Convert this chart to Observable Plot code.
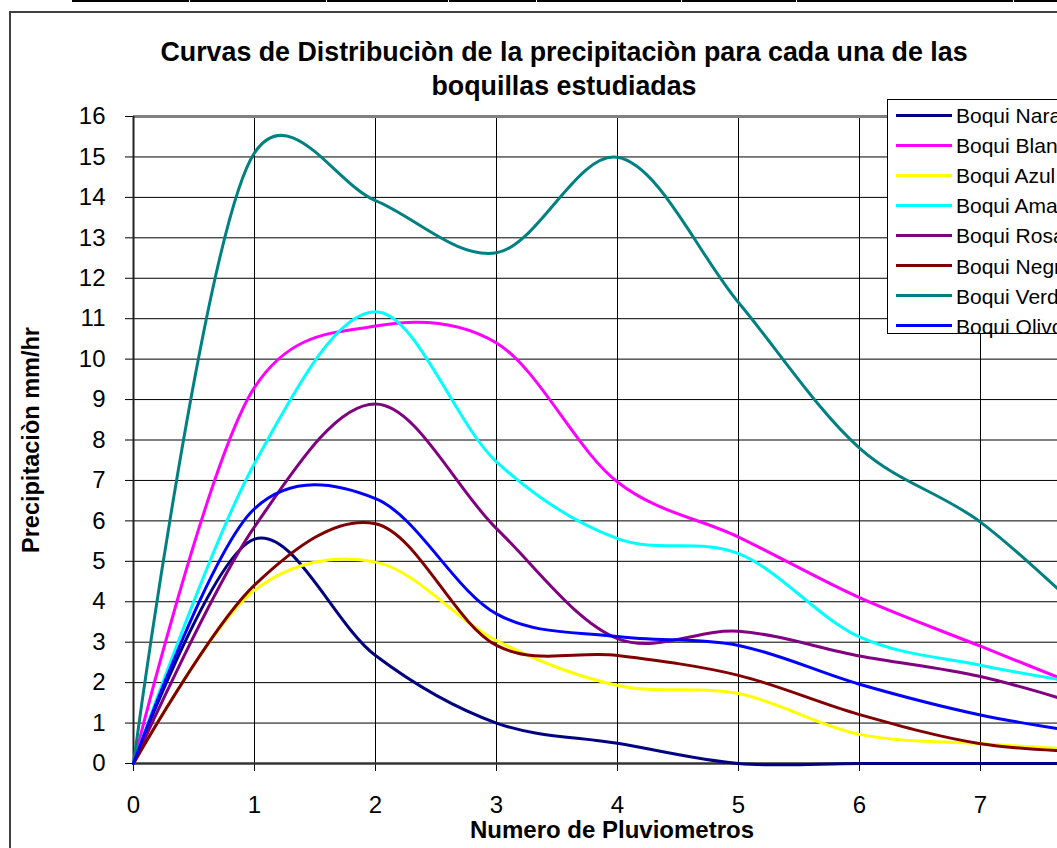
<!DOCTYPE html>
<html>
<head>
<meta charset="utf-8">
<script src="https://cdn.jsdelivr.net/npm/d3@7"></script>
<script src="https://cdn.jsdelivr.net/npm/@observablehq/plot@0.6"></script>
<style>
  html, body { margin: 0; padding: 0; background: #fff; overflow: hidden; }
  body { width: 1057px; height: 848px; position: relative; font-family: "Liberation Sans", Arial, sans-serif; color: #000; }
  #sheet-line { position: absolute; left: 72px; top: 0; width: 1100px; height: 2px; background: #000; }
  .cell-gap { position: absolute; top: 0; width: 1px; height: 2px; background: #fff; }
  #frame { position: absolute; left: 9px; top: 11px; width: 1200px; height: 1000px; border: 2px solid #404040; box-sizing: border-box; }
  #chart { position: absolute; left: 0; top: 0; width: 1130px; height: 900px; }
  #chart svg { max-width: none !important; }
  .title { position: absolute; left: 564px; transform: translateX(-50%); font-weight: bold; font-size: 26.8px; white-space: nowrap; line-height: 34px; text-align: center; }
  #ylabel { position: absolute; left: 31px; top: 440px; transform: translate(-50%, -50%) rotate(-90deg); font-weight: bold; font-size: 23.5px; white-space: nowrap; }
  #xlabel { position: absolute; left: 612px; top: 830px; transform: translate(-50%, -50%); font-weight: bold; font-size: 24px; white-space: nowrap; }
  #legend { position: absolute; left: 887px; top: 99px; width: 205px; height: 235px; border: 1px solid #000; background: #fff; box-sizing: border-box; }
  .leg-row { position: absolute; left: 0; height: 30px; width: 100%; }
  .leg-swatch { position: absolute; left: 8px; top: 13.5px; width: 56px; height: 3px; }
  .leg-text { position: absolute; left: 68px; top: 1px; line-height: 30px; font-size: 21px; white-space: nowrap; }
</style>
</head>
<body>
<div id="sheet-line"></div>
<div id="frame"></div>
<div id="chart"></div>
<div class="title" style="top:35px">Curvas de Distribuciòn de la precipitaciòn para cada una de las</div>
<div class="title" style="top:69px">boquillas estudiadas</div>
<div id="ylabel">Precipitaciòn mm/hr</div>
<div id="xlabel">Numero de Pluviometros</div>
<div id="legend"></div>
<script>
// Rain-gauge number along the collector line
const pluviometros = [0, 1, 2, 3, 4, 5, 6, 7, 8];

// Precipitation (mm/hr) measured at each gauge, one array per nozzle
const boquiNaranja  = [0, 5.55, 2.67, 1.0, 0.5, 0, 0, 0, 0];
const boquiBlanca   = [0, 9.3, 10.82, 10.4, 6.96, 5.6, 4.1, 2.9, 1.7];
const boquiAzul     = [0, 4.28, 4.98, 3.04, 1.93, 1.73, 0.72, 0.49, 0.32];
const boquiAmarilla = [0, 7.42, 11.17, 7.46, 5.56, 5.19, 3.13, 2.43, 1.9];
const boquiRosa     = [0, 5.85, 8.89, 5.81, 3.09, 3.27, 2.66, 2.15, 1.3];
const boquiNegra    = [0, 4.41, 5.93, 2.92, 2.67, 2.18, 1.21, 0.49, 0.27];
const boquiVerde    = [0, 15.1, 13.92, 12.63, 14.99, 11.4, 7.8, 5.97, 3.3];
const boquiOlivo    = [0, 6.3, 6.55, 3.70, 3.14, 2.92, 1.96, 1.2, 0.7];

const seriesNames  = ["Boqui Naranja", "Boqui Blanca", "Boqui Azul", "Boqui Amarilla",
                      "Boqui Rosa", "Boqui Negra", "Boqui Verde", "Boqui Olivo"];
const seriesValues = [boquiNaranja, boquiBlanca, boquiAzul, boquiAmarilla,
                      boquiRosa, boquiNegra, boquiVerde, boquiOlivo];
const seriesColors = ["#000080", "#FF00FF", "#FFFF00", "#00FFFF",
                      "#800080", "#800000", "#008080", "#0000FF"];

const xTicks = [0, 1, 2, 3, 4, 5, 6, 7];
const yTicks = [0, 1, 2, 3, 4, 5, 6, 7, 8, 9, 10, 11, 12, 13, 14, 15, 16];

// Long-format table for the line mark
const rows = [];
seriesNames.forEach((name, i) => {
  pluviometros.forEach((p, j) => rows.push({serie: name, x: p, y: seriesValues[i][j]}));
});

const chart = Plot.plot({
  width: 1130,
  height: 900,
  marginLeft: 133,
  marginRight: 29,
  marginTop: 116,
  marginBottom: 137,
  style: {fontFamily: '"Liberation Sans", Arial, sans-serif', fontSize: "24px", color: "#000", background: "transparent", overflow: "visible", maxWidth: "none"},
  x: {domain: [0, 8], ticks: xTicks, tickSize: 8, tickPadding: 24, tickFormat: d => String(d), label: null},
  y: {domain: [0, 16], ticks: yTicks, tickSize: 8, tickPadding: 20, tickFormat: d => String(d), label: null},
  color: {domain: seriesNames, range: seriesColors},
  marks: [
    Plot.ruleX(xTicks.filter(d => d > 0), {stroke: "#000", strokeWidth: 1}),
    Plot.ruleY(yTicks.filter(d => d > 0 && d < 16), {stroke: "#000", strokeWidth: 1}),
    Plot.ruleY([16], {stroke: "#808080", strokeWidth: 3}),
    Plot.ruleY([0], {stroke: "#333", strokeWidth: 2.5}),
    Plot.ruleX([0], {stroke: "#222", strokeWidth: 2}),
    Plot.line(rows, {x: "x", y: "y", z: "serie", stroke: "serie", strokeWidth: 3, curve: "catmull-rom", tension: 0.2})
  ]
});
chart.style.maxWidth = "none";
document.getElementById("chart").appendChild(chart);

// Spreadsheet cell separators along the top edge
[189, 326, 448, 536, 681, 796, 1013].forEach(x => {
  const g = document.createElement("div");
  g.className = "cell-gap";
  g.style.left = x + "px";
  document.body.appendChild(g);
});

// Legend: line swatch + series name
const legend = document.getElementById("legend");
seriesNames.forEach((name, i) => {
  const row = document.createElement("div");
  row.className = "leg-row";
  row.style.top = (i * 30.1) + "px";
  const sw = document.createElement("div");
  sw.className = "leg-swatch";
  sw.style.background = seriesColors[i];
  const tx = document.createElement("div");
  tx.className = "leg-text";
  tx.textContent = name;
  row.appendChild(sw);
  row.appendChild(tx);
  legend.appendChild(row);
});
</script>
</body>
</html>
